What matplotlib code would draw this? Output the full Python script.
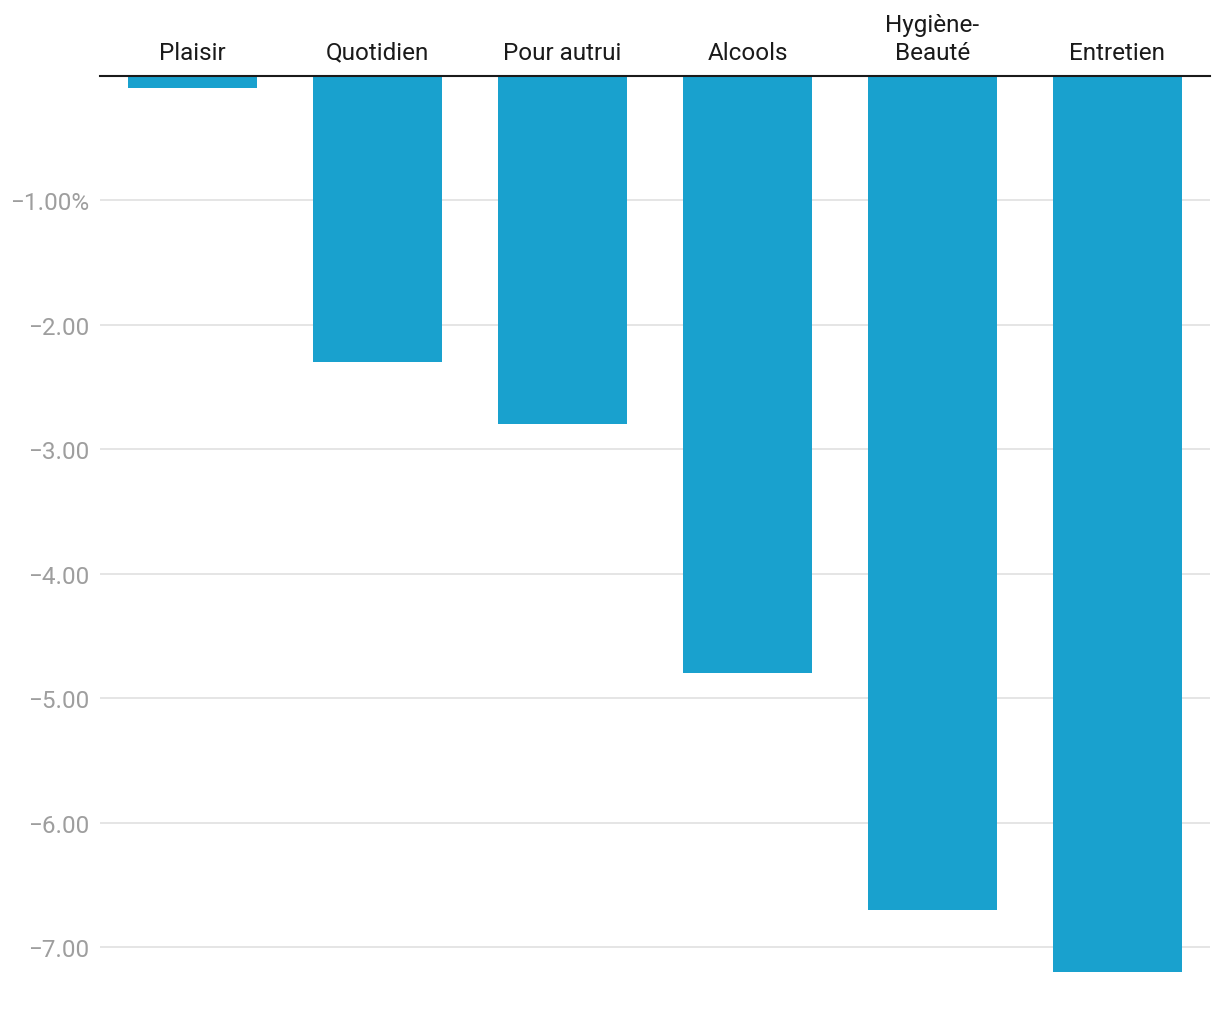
import matplotlib.pyplot as plt

categories = ["Plaisir", "Quotidien", "Pour autrui", "Alcools", "Hygiène-\nBeauté", "Entretien"]
values = [-0.1, -2.3, -2.8, -4.8, -6.7, -7.2]
yticks = [-1, -2, -3, -4, -5, -6, -7]
ytick_labels = ["−1.00%", "−2.00", "−3.00", "−4.00", "−5.00", "−6.00", "−7.00"]

plt.rcParams['font.family'] = ['Roboto', 'DejaVu Sans']

fig = plt.figure(figsize=(12.2, 10.2), dpi=100)
ax = fig.add_axes([0.082, 0.034, 0.9098, 0.8905])

x = range(len(categories))
ax.bar(x, values, width=0.7, color='#19a1ce', zorder=2)

ax.set_xlim(-0.5, len(categories) - 0.5)
ax.set_ylim(-7.3, 0)

ax.set_yticks(yticks)
ax.set_yticklabels(ytick_labels, fontsize=17.5, color='#9e9e9e', va='center_baseline')
ax.yaxis.grid(True, color='#e0e0e0', linewidth=1.2, zorder=0)
ax.tick_params(axis='y', length=0, pad=8)

ax.xaxis.tick_top()
ax.set_xticks(list(x))
ax.set_xticklabels(categories, fontsize=17.5, color='#1a1a1a', linespacing=1.25)
ax.tick_params(axis='x', length=0, pad=9)

for side in ['left', 'right', 'bottom']:
    ax.spines[side].set_visible(False)
ax.spines['top'].set_color('#1a1a1a')
ax.spines['top'].set_linewidth(1.5)
ax.spines['top'].set_zorder(3)

fig.savefig('out.png', dpi=100, facecolor='white')
